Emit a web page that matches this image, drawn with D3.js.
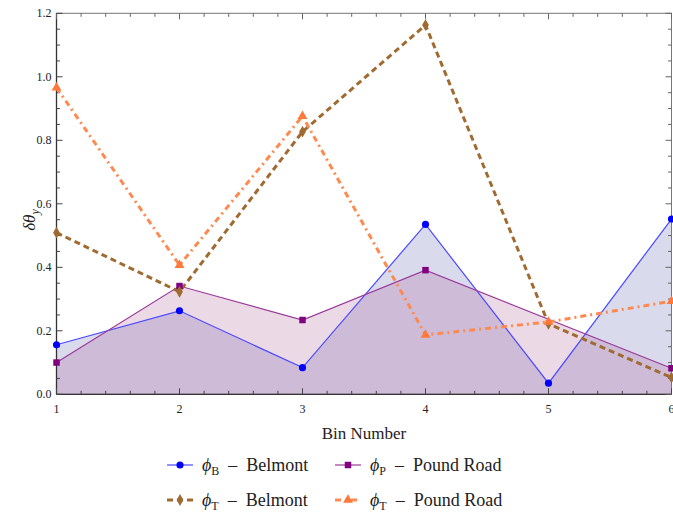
<!DOCTYPE html>
<html><head><meta charset="utf-8">
<script src="https://cdn.jsdelivr.net/npm/d3@7"></script>
<style>
body{margin:0;background:#fff;}
text{font-family:"Liberation Serif","DejaVu Serif",serif;}
</style></head>
<body><svg id="c" width="673" height="515"></svg>
<script>
const bins = [1,2,3,4,5,6];
const phiBBelmont = [0.156,0.263,0.084,0.535,0.035,0.552];
const phiPPound   = [0.100,0.341,0.234,0.391,null,0.082];
const phiTBelmont = [0.509,0.323,0.827,1.163,0.222,0.053];
const phiTPound   = [0.966,0.407,0.876,0.187,0.228,0.293];
const yTicks = [0.0,0.2,0.4,0.6,0.8,1.0,1.2];
const xTicks = [1,2,3,4,5,6];

const svg = d3.select("#c");
const x = d3.scaleLinear().domain([1,6]).range([56.5,671.5]);
const y = d3.scaleLinear().domain([0,1.2]).range([394.3,13.3]);

const pts = arr => arr.map((v,i)=>({b:bins[i], v})).filter(d=>d.v!==null);

// fills
const area = d3.area().x(d=>x(d.b)).y0(y(0)).y1(d=>y(d.v));
svg.append("path").datum(pts(phiBBelmont)).attr("d",area).attr("fill","rgb(70,70,165)").attr("fill-opacity",0.2);
svg.append("path").datum(pts(phiPPound)).attr("d",area).attr("fill","rgb(160,65,130)").attr("fill-opacity",0.2);

// frame & ticks
const frame = svg.append("g");
frame.append("rect").attr("x",x(1)).attr("y",y(1.2)).attr("width",x(6)-x(1)).attr("height",y(0)-y(1.2))
  .attr("fill","none").attr("stroke","#777").attr("stroke-width",1);
frame.append("line").attr("x1",x(1)).attr("x2",x(6)).attr("y1",y(0)).attr("y2",y(0)).attr("stroke","#333").attr("stroke-width",1.3);
frame.append("line").attr("x1",x(1)).attr("x2",x(1)).attr("y1",y(0)).attr("y2",y(1.2)).attr("stroke","#333").attr("stroke-width",1.3);

const xMinor = d3.range(1,6.0001,0.2);
xMinor.forEach(v=>{
  const major = Math.abs(v-Math.round(v))<1e-6;
  const L = major?6:3.5;
  frame.append("line").attr("x1",x(v)).attr("x2",x(v)).attr("y1",y(0)).attr("y2",y(0)-L).attr("stroke","#444");
  frame.append("line").attr("x1",x(v)).attr("x2",x(v)).attr("y1",y(1.2)).attr("y2",y(1.2)+L).attr("stroke","#666");
});
const yMinor = d3.range(0,1.2001,0.05);
yMinor.forEach(v=>{
  const major = Math.abs(v*5-Math.round(v*5))<1e-6;
  const L = major?6:3.5;
  frame.append("line").attr("y1",y(v)).attr("y2",y(v)).attr("x1",x(1)).attr("x2",x(1)+L).attr("stroke","#444");
  frame.append("line").attr("y1",y(v)).attr("y2",y(v)).attr("x1",x(6)).attr("x2",x(6)-L).attr("stroke","#666");
});
svg.append("g").selectAll("text").data(xTicks).join("text")
  .attr("x",d=>x(d)).attr("y",y(0)+19).attr("text-anchor","middle").attr("font-size",12).attr("fill","#222").text(d=>d);
svg.append("g").selectAll("text").data(yTicks).join("text")
  .attr("x",x(1)-5).attr("y",d=>y(d)+4).attr("text-anchor","end").attr("font-size",12).attr("fill","#222").text(d=>d.toFixed(1));

svg.append("text").attr("x",364).attr("y",439).attr("text-anchor","middle").attr("font-size",17).attr("fill","#222").text("Bin Number");
const yl = svg.append("text").attr("transform","translate(35,220) rotate(-90)").attr("text-anchor","middle").attr("font-size",17).attr("fill","#222");
yl.append("tspan").attr("font-style","italic").text("δθ");
yl.append("tspan").attr("font-style","italic").attr("font-size",12).attr("dy",4).text("y");

// lines
const line = d3.line().x(d=>x(d.b)).y(d=>y(d.v));
const series = [
  {data:phiBBelmont, color:"#4a4aff", w:1.2, dash:null, marker:"circle", mcolor:"#0000ff"},
  {data:phiPPound, color:"#9a3a9a", w:1.2, dash:null, marker:"square", mcolor:"#800080"},
  {data:phiTBelmont, color:"#a06a30", w:3, dash:"6,4", marker:"diamond", mcolor:"#a06a30"},
  {data:phiTPound, color:"#ff8a50", w:3, dash:"6,4,2,4", marker:"triangle", mcolor:"#ff7a3a"}
];
const symType = {circle:d3.symbolCircle, square:d3.symbolSquare, diamond:d3.symbolDiamond, triangle:d3.symbolTriangle};
const symSize = {circle:40, square:42, diamond:40, triangle:42};
series.forEach(s=>{
  const p = svg.append("path").datum(pts(s.data)).attr("d",line).attr("fill","none")
    .attr("stroke",s.color).attr("stroke-width",s.w);
  if(s.dash) p.attr("stroke-dasharray",s.dash);
});
series.forEach(s=>{
  svg.append("g").selectAll("path").data(pts(s.data)).join("path")
    .attr("transform",d=>`translate(${x(d.b)},${y(d.v)})`)
    .attr("d",d3.symbol().type(symType[s.marker]).size(symSize[s.marker]))
    .attr("fill",s.mcolor);
});

// legend
const legend = [
  {s:series[0], sub:"B", label:"Belmont", lx:167, ty:465},
  {s:series[1], sub:"P", label:"Pound Road", lx:335, ty:465},
  {s:series[2], sub:"T", label:"Belmont", lx:167, ty:500},
  {s:series[3], sub:"T", label:"Pound Road", lx:335, ty:500}
];
legend.forEach(l=>{
  const g = svg.append("g");
  const ln = g.append("line").attr("x1",l.lx).attr("x2",l.lx+26).attr("y1",l.ty).attr("y2",l.ty)
    .attr("stroke",l.s.color).attr("stroke-width",l.s.w);
  if(l.s.dash) ln.attr("stroke-dasharray",l.s.dash);
  g.append("path").attr("transform",`translate(${l.lx+13},${l.ty})`)
    .attr("d",d3.symbol().type(symType[l.s.marker]).size(symSize[l.s.marker])).attr("fill",l.s.mcolor);
  const t = g.append("text").attr("x",l.lx+35).attr("y",l.ty+6).attr("font-size",18).attr("fill","#222");
  t.append("tspan").attr("font-style","italic").text("ϕ");
  t.append("tspan").attr("font-size",12).attr("dy",4).text(l.sub);
  t.append("tspan").attr("dy",-4).text("\u2002–\u2002" + l.label);
});
</script></body></html>
